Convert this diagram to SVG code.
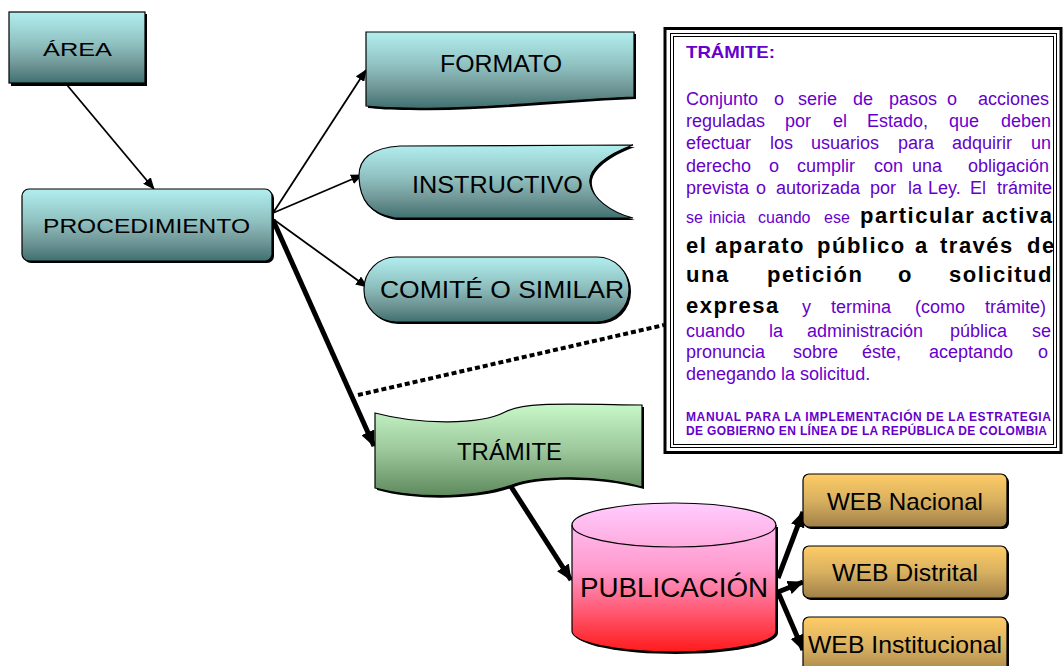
<svg xmlns="http://www.w3.org/2000/svg" width="1063" height="666" viewBox="0 0 1063 666">
<defs>
<linearGradient id="gTeal" x1="0" y1="0" x2="0" y2="1">
<stop offset="0" stop-color="#b2eeee"/><stop offset="0.45" stop-color="#8fc0c0"/><stop offset="0.75" stop-color="#6e9494"/><stop offset="1" stop-color="#3f7070"/>
</linearGradient>
<linearGradient id="gGreen" x1="0" y1="0" x2="0" y2="1">
<stop offset="0" stop-color="#c8f8c8"/><stop offset="0.5" stop-color="#9cc89c"/><stop offset="1" stop-color="#5e8a5e"/>
</linearGradient>
<linearGradient id="gPink" x1="0" y1="0" x2="0" y2="1">
<stop offset="0" stop-color="#ffccff"/><stop offset="0.45" stop-color="#ff99cc"/><stop offset="1" stop-color="#ff1a1a"/>
</linearGradient>
<linearGradient id="gOrange" x1="0" y1="0" x2="0" y2="1">
<stop offset="0" stop-color="#ffcc66"/><stop offset="0.5" stop-color="#d8b060"/><stop offset="1" stop-color="#a08048"/>
</linearGradient>
<marker id="aThin" markerUnits="userSpaceOnUse" markerWidth="12" markerHeight="10" refX="11" refY="5" orient="auto"><path d="M0,0 L12,5 L0,10 Z" fill="#000"/></marker>
<marker id="aThick" markerUnits="userSpaceOnUse" markerWidth="16" markerHeight="14" refX="15" refY="7" orient="auto"><path d="M0,0 L16,7 L0,14 Z" fill="#000"/></marker>
<style>
.lbl{font-family:"Liberation Sans",Arial,sans-serif;font-size:24px;fill:#000}
.shape{stroke:#000;stroke-width:1.2}
.shadow{fill:#000}
.thin{fill:none;stroke:#000;stroke-width:1.8;marker-end:url(#aThin)}
.thick{fill:none;stroke:#000;stroke-width:5;marker-end:url(#aThick)}
.dot{fill:none;stroke:#000;stroke-width:4;stroke-dasharray:5 3}
.p{font-family:"Liberation Sans",Arial,sans-serif;font-size:18px;fill:#6600cc}
.p16{font-family:"Liberation Sans",Arial,sans-serif;font-size:16px;fill:#6600cc}
.b{font-family:"Liberation Sans",Arial,sans-serif;font-size:22px;font-weight:bold;fill:#000;letter-spacing:1.5px}
.h{font-family:"Liberation Sans",Arial,sans-serif;font-weight:bold;fill:#6600cc}
</style>
</defs>
<rect width="1063" height="666" fill="#fff"/>

<g id="connectors">
<line class="thin" x1="67" y1="85" x2="154" y2="189"/>
<line class="thin" x1="273" y1="213" x2="366" y2="70"/>
<line class="thin" x1="273" y1="213" x2="362" y2="175"/>
<line class="thin" x1="273" y1="219" x2="367" y2="287"/>
<line class="thick" x1="273" y1="220" x2="374" y2="446"/>
<line class="dot" x1="358" y1="395" x2="664" y2="325"/>
<line class="thick" x1="510" y1="485" x2="571" y2="580"/>
<line class="thick" x1="778" y1="578" x2="803" y2="512"/>
<line class="thick" x1="778" y1="592" x2="803" y2="582"/>
<line class="thick" x1="778" y1="592" x2="803" y2="650"/>
</g>

<g id="area">
<rect class="shadow" x="11" y="14" width="136" height="72"/>
<rect class="shape" x="9" y="12" width="136" height="71" fill="url(#gTeal)"/>
<text class="lbl" x="43" y="56" style="font-size:19px" textLength="69" lengthAdjust="spacingAndGlyphs">ÁREA</text>
</g>

<g id="procedimiento">
<rect class="shadow" x="24" y="191" width="250" height="72" rx="7"/>
<rect class="shape" x="22" y="189" width="250" height="72" rx="7" fill="url(#gTeal)"/>
<text class="lbl" x="43" y="233" style="font-size:21px" textLength="207" lengthAdjust="spacingAndGlyphs">PROCEDIMIENTO</text>
</g>

<g id="formato">
<path class="shadow" d="M368,34 H636 V99 C560,102 480,112 410,110 C390,110 377,109 368,108 Z"/>
<path class="shape" d="M366,32 H634 V97 C560,100 480,110 410,108 C390,108 375,107 366,106 Z" fill="url(#gTeal)"/>
<text class="lbl" x="440" y="72" textLength="122" lengthAdjust="spacingAndGlyphs">FORMATO</text>
</g>

<g id="instructivo">
<path class="shadow" d="M635,147 C607,157 590,172 592,185 C594,200 612,214 635,220 L397,220 C372,216 362,202 361,180 C360,162 372,150 402,148 Z"/>
<path class="shape" d="M633,145 C605,155 588,170 590,183 C592,198 610,212 633,218 L395,218 C370,214 360,200 359,178 C358,160 370,148 400,146 Z" fill="url(#gTeal)"/>
<text class="lbl" x="412" y="193" textLength="171" lengthAdjust="spacingAndGlyphs">INSTRUCTIVO</text>
</g>

<g id="comite">
<rect class="shadow" x="366" y="259" width="265" height="65" rx="32"/>
<rect class="shape" x="364" y="257" width="265" height="65" rx="32" fill="url(#gTeal)"/>
<text class="lbl" x="380" y="298" textLength="244" lengthAdjust="spacingAndGlyphs">COMITÉ O SIMILAR</text>
</g>

<g id="tramite">
<path class="shadow" d="M377,415 C420,427 480,427 507,414 C527,404 560,406 644,407 V489 C600,477 540,477 514,487 C482,499 420,502 377,490 Z"/>
<path class="shape" d="M375,413 C420,425 480,425 505,412 C525,402 560,404 642,405 V487 C600,475 540,475 512,485 C480,497 420,500 375,488 Z" fill="url(#gGreen)"/>
<text class="lbl" x="457" y="460" style="font-size:23px" textLength="105" lengthAdjust="spacingAndGlyphs">TRÁMITE</text>
</g>

<g id="publicacion">
<path class="shadow" d="M574,527 V633 A102,21 0 0 0 778,633 V527 Z"/>
<path class="shape" d="M572,525 V631 A102,21 0 0 0 776,631 V525 A102,22 0 0 0 572,525 Z" fill="url(#gPink)"/>
<path d="M572,525 A102,22 0 0 0 776,525" fill="none" stroke="#000" stroke-width="1.2"/>
<text class="lbl" x="580" y="597" style="font-size:27px" textLength="188" lengthAdjust="spacingAndGlyphs">PUBLICACIÓN</text>
</g>

<g id="web-nacional">
<rect class="shadow" x="805" y="476" width="204" height="53" rx="6"/>
<rect class="shape" x="803" y="474" width="204" height="53" rx="6" fill="url(#gOrange)"/>
<text class="lbl" x="827" y="510" textLength="156" lengthAdjust="spacingAndGlyphs">WEB Nacional</text>
</g>

<g id="web-distrital">
<rect class="shadow" x="805" y="548" width="204" height="52" rx="6"/>
<rect class="shape" x="803" y="546" width="204" height="52" rx="6" fill="url(#gOrange)"/>
<text class="lbl" x="832" y="581" textLength="146" lengthAdjust="spacingAndGlyphs">WEB Distrital</text>
</g>

<g id="web-institucional">
<rect class="shadow" x="805" y="619" width="204" height="60" rx="6"/>
<rect class="shape" x="803" y="617" width="204" height="60" rx="6" fill="url(#gOrange)"/>
<text class="lbl" x="808" y="653" textLength="194" lengthAdjust="spacingAndGlyphs">WEB Institucional</text>
</g>

<g id="definicion">
<rect x="665" y="28.5" width="396" height="424" fill="#fff" stroke="#000" stroke-width="3"/>
<rect x="670.5" y="33.5" width="386" height="414" fill="none" stroke="#000" stroke-width="1"/>
<rect x="673.5" y="36.5" width="380" height="408" fill="none" stroke="#000" stroke-width="1"/>
<text class="h" x="686" y="58" style="font-size:17px" textLength="89" lengthAdjust="spacingAndGlyphs">TRÁMITE:</text>
<text class="p" y="105"><tspan x="686">Conjunto</tspan><tspan x="774">o</tspan><tspan x="798">serie</tspan><tspan x="853">de</tspan><tspan x="889">pasos</tspan><tspan x="947">o</tspan><tspan x="978">acciones</tspan></text>
<text class="p" y="127"><tspan x="686">reguladas</tspan><tspan x="785">por</tspan><tspan x="833">el</tspan><tspan x="867">Estado,</tspan><tspan x="949">que</tspan><tspan x="1001">deben</tspan></text>
<text class="p" y="149"><tspan x="686">efectuar</tspan><tspan x="770">los</tspan><tspan x="811">usuarios</tspan><tspan x="898">para</tspan><tspan x="952">adquirir</tspan><tspan x="1031">un</tspan></text>
<text class="p" y="172"><tspan x="686">derecho</tspan><tspan x="769">o</tspan><tspan x="797">cumplir</tspan><tspan x="874">con</tspan><tspan x="912">una</tspan><tspan x="968">obligación</tspan></text>
<text class="p" y="194"><tspan x="686">prevista</tspan><tspan x="756">o</tspan><tspan x="776">autorizada</tspan><tspan x="870">por</tspan><tspan x="908">la</tspan><tspan x="928">Ley.</tspan><tspan x="970">El</tspan><tspan x="997">trámite</tspan></text>
<text class="p16" y="223"><tspan x="686">se</tspan><tspan x="709">inicia</tspan><tspan x="758">cuando</tspan><tspan x="824">ese</tspan></text>
<text class="b" y="223"><tspan x="860">particular</tspan><tspan x="982">activa</tspan></text>
<text class="b" y="253"><tspan x="686">el</tspan><tspan x="715">aparato</tspan><tspan x="817">público</tspan><tspan x="915">a</tspan><tspan x="940">través</tspan><tspan x="1027">de</tspan></text>
<text class="b" y="282"><tspan x="686">una</tspan><tspan x="767">petición</tspan><tspan x="898">o</tspan><tspan x="949">solicitud</tspan></text>
<text class="b" x="686" y="313">expresa</text>
<text class="p" y="313"><tspan x="802">y</tspan><tspan x="831">termina</tspan><tspan x="915">(como</tspan><tspan x="985">trámite)</tspan></text>
<text class="p" y="337"><tspan x="686">cuando</tspan><tspan x="769">la</tspan><tspan x="807">administración</tspan><tspan x="950">pública</tspan><tspan x="1032">se</tspan></text>
<text class="p" y="358"><tspan x="686">pronuncia</tspan><tspan x="793">sobre</tspan><tspan x="862">éste,</tspan><tspan x="929">aceptando</tspan><tspan x="1038">o</tspan></text>
<text class="p" x="686" y="380">denegando la solicitud.</text>
<text class="h" x="686" y="421" style="font-size:12px" textLength="365">MANUAL PARA LA IMPLEMENTACIÓN DE LA ESTRATEGIA</text>
<text class="h" x="686" y="435" style="font-size:12px" textLength="361">DE GOBIERNO EN LÍNEA DE LA REPÚBLICA DE COLOMBIA</text>
</g>
</svg>
